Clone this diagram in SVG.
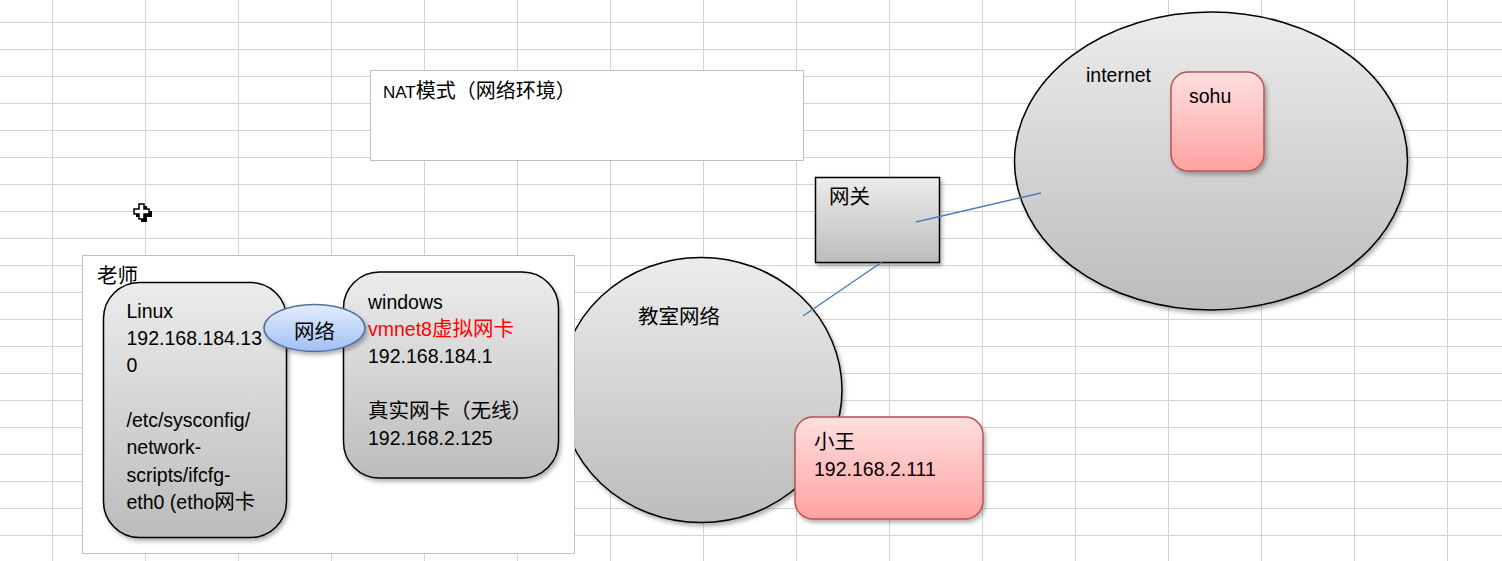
<svg xmlns="http://www.w3.org/2000/svg" width="1502" height="561" viewBox="0 0 1502 561">
  <defs>
    <linearGradient id="gray" x1="0" y1="0" x2="0" y2="1">
      <stop offset="0" stop-color="#ececec"/>
      <stop offset="1" stop-color="#bcbcbc"/>
    </linearGradient>
    <linearGradient id="pink" x1="0" y1="0" x2="0" y2="1">
      <stop offset="0" stop-color="#ffdfdf"/>
      <stop offset="1" stop-color="#ffa2a2"/>
    </linearGradient>
    <linearGradient id="blue" x1="0" y1="0" x2="0" y2="1">
      <stop offset="0" stop-color="#e4edfc"/>
      <stop offset="1" stop-color="#a0c0f4"/>
    </linearGradient>
    <filter id="shadow" x="-10%" y="-10%" width="125%" height="125%">
      <feDropShadow dx="2" dy="3" stdDeviation="2" flood-color="#000" flood-opacity="0.3"/>
    </filter>
    <pattern id="grid" x="0" y="0" width="93" height="27" patternUnits="userSpaceOnUse" patternTransform="translate(52 22)">
      <path d="M0.5 0 V27 M0 0.5 H93" stroke="#d4d4d4" stroke-width="1" fill="none"/>
    </pattern>
  </defs>
  <style>
    text { font-family: "Liberation Sans", "Noto Sans CJK SC", sans-serif; fill: #000; }
    .t { font-size: 19.5px; }
    .cjk { font-size: 20.5px; }
    .shape { stroke: #000; stroke-width: 1.5; fill: url(#gray); filter: url(#shadow); }
    .pinkbox { stroke: #c0504d; stroke-width: 1.5; fill: url(#pink); filter: url(#shadow); }
    .frame { fill: #fff; stroke: #bfbfbf; stroke-width: 1; }
    .link { stroke: #4a7ebb; stroke-width: 1.4; fill: none; }
  </style>

  <!-- spreadsheet background -->
  <rect width="1502" height="561" fill="#fff"/>
  <rect width="1502" height="561" fill="url(#grid)"/>

  <!-- classroom network -->
  <g id="classroom">
    <ellipse class="shape" cx="701" cy="390" rx="141" ry="132.5"/>
    <text class="cjk" x="638" y="324">教室网络</text>
  </g>

  <!-- teacher machine frame -->
  <g id="teacher">
    <rect class="frame" x="82.5" y="255.5" width="492" height="298"/>
    <text class="cjk" x="97" y="283">老师</text>
  </g>

  <g id="linux">
    <rect class="shape" x="103.5" y="282.5" width="183" height="255" rx="36" ry="36"/>
    <text class="t" x="126.5" y="318">Linux</text>
    <text class="t" x="126.5" y="345">192.168.184.13</text>
    <text class="t" x="126.5" y="372">0</text>
    <text class="t" x="126.5" y="426.5">/etc/sysconfig/</text>
    <text class="t" x="126.5" y="454">network-</text>
    <text class="t" x="126.5" y="481.5">scripts/ifcfg-</text>
    <text class="t" x="126.5" y="509">eth0 (etho<tspan class="cjk">网卡</tspan></text>
  </g>

  <g id="windows">
    <rect class="shape" x="343.5" y="272" width="215" height="206" rx="36" ry="36"/>
    <text class="t" x="368" y="309">windows</text>
    <text class="t" x="368" y="336" style="fill:#ff0000">vmnet8<tspan class="cjk" style="fill:#ff0000">虚拟网卡</tspan></text>
    <text class="t" x="368" y="363">192.168.184.1</text>
    <text class="cjk" x="368" y="418">真实网卡（无线）</text>
    <text class="t" x="368" y="444.5">192.168.2.125</text>
  </g>

  <g id="vnet">
    <ellipse cx="314.5" cy="328" rx="50.5" ry="23.5" fill="url(#blue)" stroke="#4f6fa0" stroke-width="1.5" filter="url(#shadow)"/>
    <text class="cjk" x="314.5" y="339" text-anchor="middle">网络</text>
  </g>

  <g id="xiaowang">
    <rect class="pinkbox" x="795" y="417" width="188" height="102" rx="18" ry="18"/>
    <text class="cjk" x="814" y="449">小王</text>
    <text class="t" x="814" y="475.5">192.168.2.111</text>
  </g>

  <g id="gateway">
    <rect class="shape" x="815.5" y="177.5" width="124" height="85"/>
    <text class="cjk" x="829" y="204">网关</text>
  </g>

  <g id="internet">
    <ellipse class="shape" cx="1211" cy="161" rx="196.5" ry="149"/>
    <text class="t" x="1086" y="82">internet</text>
  </g>

  <g id="sohu">
    <rect class="pinkbox" x="1171" y="72" width="93" height="99" rx="17" ry="17"/>
    <text class="t" x="1189" y="103">sohu</text>
  </g>

  <!-- NAT heading -->
  <g id="title">
    <rect class="frame" x="370.5" y="70.5" width="433" height="90"/>
    <text x="383" y="97.5" style="font-size:17px">NAT<tspan style="font-size:20px">模式（网络环境）</tspan></text>
  </g>

  <!-- connectors -->
  <g id="connectors">
    <line class="link" x1="803" y1="316" x2="882" y2="262"/>
    <line class="link" x1="916" y1="222" x2="1041" y2="193"/>
  </g>

  <!-- mouse pointer -->
  <g id="pointer">
    <path d="M141 206 h6 v5 h5 v6 h-5 v5 h-6 v-5 h-5 v-6 h5 z" fill="#000"/>
    <path d="M139 204 h5 v5 h5 v5 h-5 v5 h-5 v-5 h-5 v-5 h5 z" fill="#fff" stroke="#000" stroke-width="1.5"/>
  </g>
</svg>
